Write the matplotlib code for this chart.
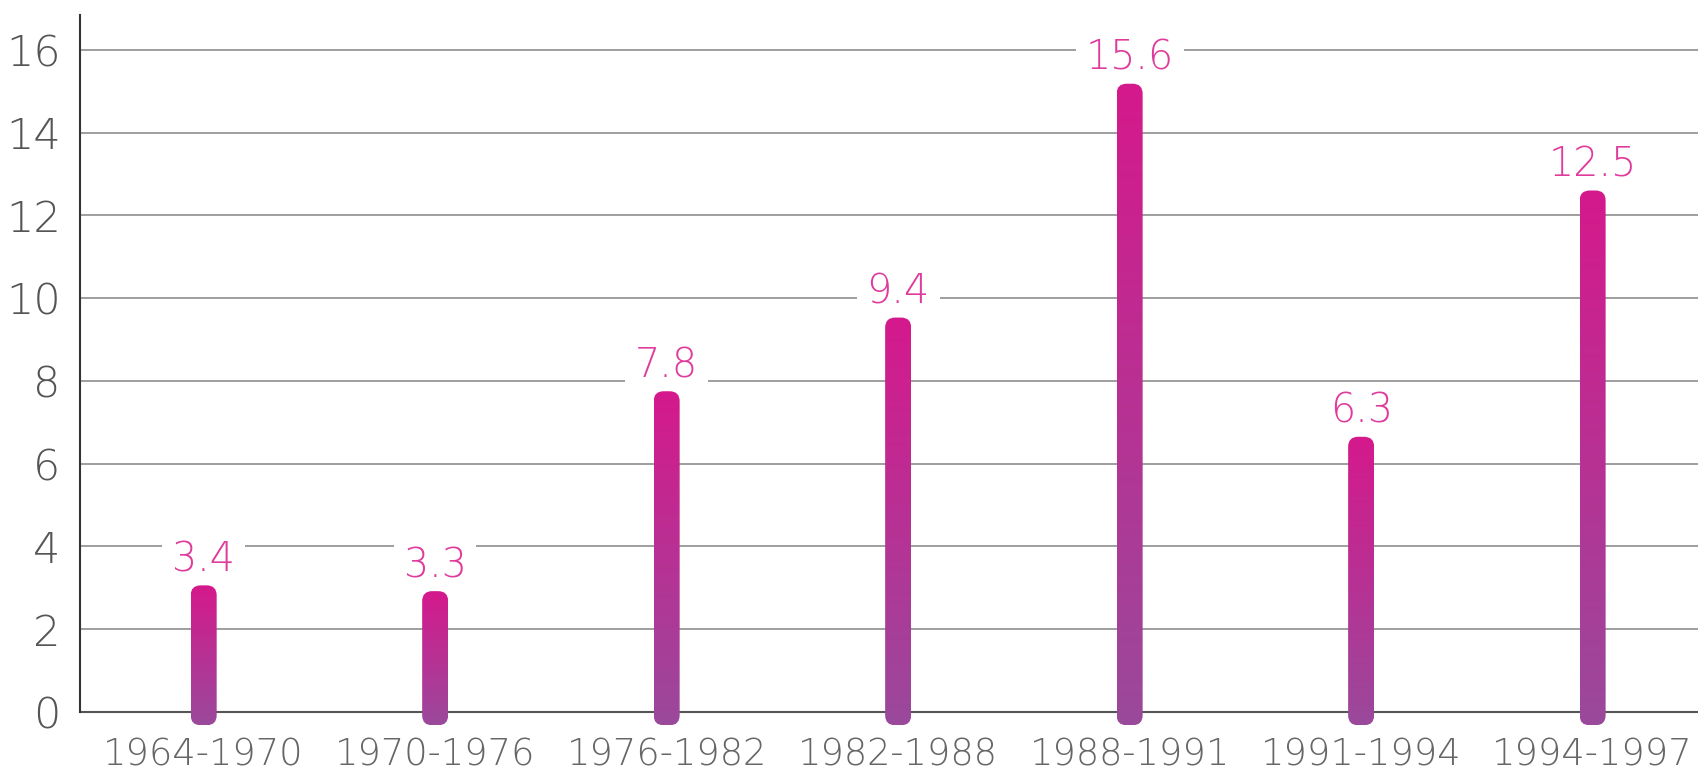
import matplotlib
matplotlib.use("Agg")
import matplotlib.pyplot as plt
import numpy as np
from matplotlib.colors import LinearSegmentedColormap
from matplotlib.patches import FancyBboxPatch

# data
periods = ["1964-1970", "1970-1976", "1976-1982", "1982-1988",
           "1988-1991", "1991-1994", "1994-1997"]
labels = [3.4, 3.3, 7.8, 9.4, 15.6, 6.3, 12.5]
# drawn bar tops do not follow the labels exactly in the original
bar_tops = [3.06, 2.92, 7.75, 9.53, 15.18, 6.65, 12.6]
bar_base = -0.32
yticks = [0, 2, 4, 6, 8, 10, 12, 14, 16]

plt.rcParams["font.family"] = ["DejaVu Sans"]

XLIM = (-0.534, 6.455)
YLIM = (-0.4, 16.84)

fig = plt.figure(figsize=(17.07, 7.74), dpi=100)
ax = fig.add_axes([0.0469, 0.0587, 0.9478, 0.9219])
ax.set_xlim(*XLIM)
ax.set_ylim(*YLIM)

cmap = LinearSegmentedColormap.from_list("bar", ["#9a499b", "#d5198c"])

# pixels per data unit, so the round corners stay circular
p0 = ax.transData.transform((0, 0))
p1 = ax.transData.transform((1, 1))
px_x, px_y = p1[0] - p0[0], p1[1] - p0[1]
aspect = px_x / px_y
bar_w = 26 / px_x
radius = 10 / px_x

grad = np.linspace(0, 1, 256).reshape(-1, 1)
for i, top in enumerate(bar_tops):
    x0 = i - bar_w / 2
    patch = FancyBboxPatch((x0, bar_base), bar_w, top - bar_base,
                           boxstyle=f"round,pad=0,rounding_size={radius}",
                           mutation_aspect=aspect, facecolor="none",
                           edgecolor="none", zorder=3)
    ax.add_patch(patch)
    im = ax.imshow(grad, extent=[x0, x0 + bar_w, bar_base, top], origin="lower",
                   aspect="auto", cmap=cmap, zorder=3, interpolation="bilinear")
    im.set_clip_path(patch)
    ax.annotate(f"{labels[i]}", (i, top), xytext=(0, 10), textcoords="offset points",
                ha="center", va="baseline", fontsize=28.5, color="#e03a9c",
                fontweight="light", zorder=2.5,
                bbox=dict(boxstyle="square,pad=0.25", fc="white", ec="none"))

ax.set_xlim(*XLIM)
ax.set_ylim(*YLIM)

for y in yticks[1:]:
    ax.axhline(y, color="#8e8e8e", lw=1.2, zorder=1)
ax.axhline(0, color="#555555", lw=1.5, zorder=2)

ax.set_xticks(range(len(periods)))
ax.set_xticklabels(periods, fontsize=26.5, color="#666666", fontweight="light")
ax.set_yticks(yticks)
ax.set_yticklabels([str(v) for v in yticks], fontsize=31, color="#555555",
                   fontweight="light")
ax.tick_params(axis="both", length=0)
ax.tick_params(axis="x", pad=6)
ax.tick_params(axis="y", pad=14)

for s in ["top", "right", "bottom"]:
    ax.spines[s].set_visible(False)
ax.spines["left"].set_bounds(0, YLIM[1])
ax.spines["left"].set_color("#333333")
ax.spines["left"].set_linewidth(1.5)

fig.savefig("out.png", dpi=100)
plt.close(fig)
